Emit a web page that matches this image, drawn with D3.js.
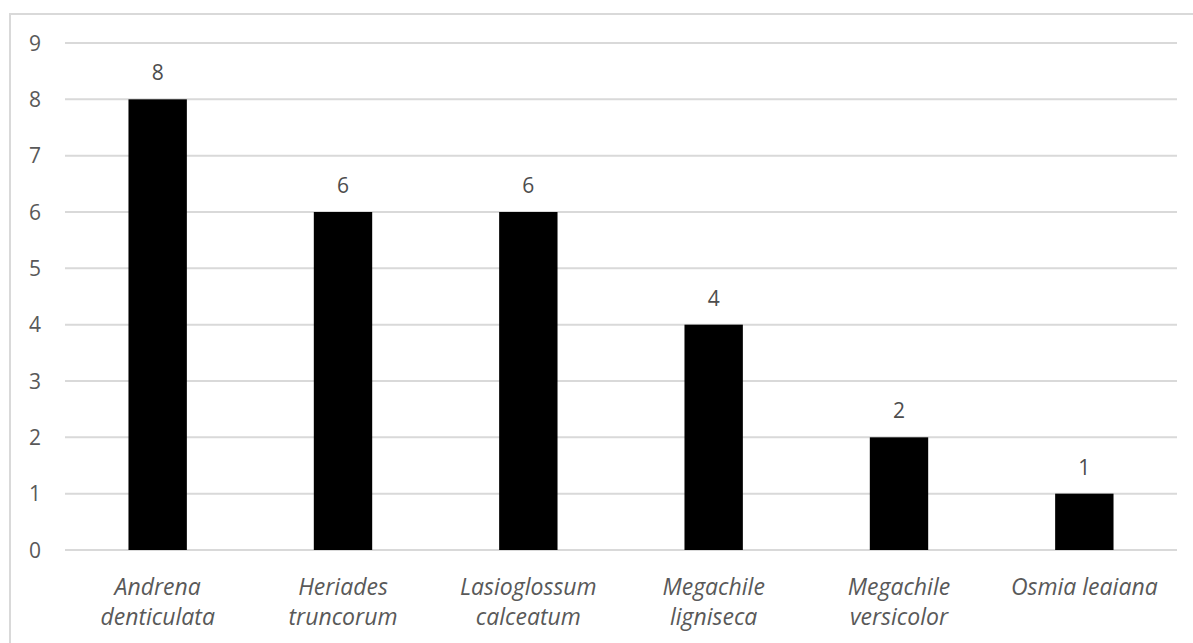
<!DOCTYPE html>
<html><head><meta charset="utf-8">
<script src="https://cdn.jsdelivr.net/npm/d3@7"></script>
<style>body{margin:0;background:#fff}svg{display:block}</style>
</head><body>
<script>
const categories = [["Andrena","denticulata"],["Heriades","truncorum"],["Lasioglossum","calceatum"],["Megachile","ligniseca"],["Megachile","versicolor"],["Osmia leaiana"]];
const values = [8,6,6,4,2,1];
const yTicks = [0,1,2,3,4,5,6,7,8,9];

(function(){
const W=1193,H=643;
const svg=d3.select("body").append("svg").attr("width",W).attr("height",H);
const font="'Open Sans', Calibri, sans-serif";
svg.append("path").attr("d",`M10,${H+2} L10,14 L${W+2},14`).attr("fill","none").attr("stroke","#d9d9d9").attr("stroke-width",2);

const pl=65,pr=1177,pt=43,pb=550;
const x=d3.scaleBand().domain(categories.map((d,i)=>i)).range([pl,pr]).paddingInner(0.685).paddingOuter(0.3425);
const y=d3.scaleLinear().domain([0,9]).range([pb,pt]);

svg.append("g").selectAll("line").data(yTicks).join("line")
  .attr("x1",pl).attr("x2",pr).attr("y1",d=>y(d)).attr("y2",d=>y(d))
  .attr("stroke","#d9d9d9").attr("stroke-width",2);

svg.append("g").selectAll("text").data(yTicks).join("text")
  .attr("x",41).attr("y",d=>y(d)).attr("dy","0.36em").attr("text-anchor","end")
  .attr("font-family",font).attr("font-size",21).attr("fill","#595959").text(d=>d);

svg.append("g").selectAll("rect").data(values).join("rect")
  .attr("x",(d,i)=>x(i)).attr("width",x.bandwidth()).attr("y",d=>y(d)).attr("height",d=>y(0)-y(d))
  .attr("fill","#000");

svg.append("g").selectAll("text").data(values).join("text")
  .attr("x",(d,i)=>x(i)+x.bandwidth()/2).attr("y",d=>y(d)-19).attr("text-anchor","middle")
  .attr("font-family",font).attr("font-size",21).attr("fill","#4d4d4d").text(d=>d);

const lab=svg.append("g").selectAll("text").data(categories).join("text")
  .attr("x",(d,i)=>x(i)+x.bandwidth()/2).attr("y",595).attr("text-anchor","middle")
  .attr("font-family",font).attr("font-size",23).attr("font-style","italic").attr("fill","#595959");
lab.selectAll("tspan").data(d=>d).join("tspan")
  .attr("x",function(){return this.parentNode.getAttribute("x");})
  .attr("dy",(d,i)=>i===0?0:30).text(d=>d);
})();
</script>
</body></html>
